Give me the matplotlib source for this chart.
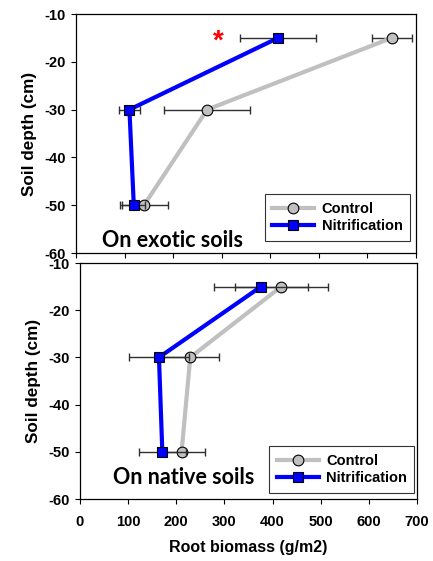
import matplotlib
matplotlib.use("Agg")
import matplotlib.pyplot as plt
from matplotlib.patches import Rectangle

depth = [-15, -30, -50]
exotic_control = [650, 270, 140]
exotic_control_err = [41, 89, 50]
exotic_nitr = [416, 110, 119]
exotic_nitr_err = [78, 22, 24]
native_control = [418, 229, 211]
native_control_err = [97, 60, 48]
native_nitr = [376, 164, 171]
native_nitr_err = [97, 62, 49]
series_labels = ["Control", "Nitrification"]
panel_labels = ["On exotic soils", "On native soils"]
xticks = [0, 100, 200, 300, 400, 500, 600, 700]
yticks = [-10, -20, -30, -40, -50, -60]

plt.rcParams['font.family'] = ['Liberation Sans', 'DejaVu Sans']
plt.rcParams['font.weight'] = 'bold'

fig = plt.figure(figsize=(4.33, 5.61), dpi=100)
ax_top = fig.add_axes([76/433, 1-253/561, 340/433, 239/561], zorder=2)
ax_bot = fig.add_axes([80/433, 1-499/561, 337/433, 236/561], zorder=0)

# white strip hiding upper part of the bottom panel's -10 label
fig.patches.append(Rectangle((0, 1-259/561), 0.17, 14/561, transform=fig.transFigure,
                             facecolor='white', edgecolor='none', zorder=1))

def draw(ax, ctrl, ctrl_err, nitr, nitr_err, text, txy, leg_anchor, show_xlabels):
    ax.errorbar(ctrl, depth, xerr=ctrl_err, fmt='none', ecolor='#303030',
                elinewidth=1, capsize=2.8, capthick=1, zorder=2)
    ax.plot(ctrl, depth, color='#c0c0c0', lw=3, marker='o', ms=7.7,
            mfc='#c0c0c0', mec='black', mew=0.8, label=series_labels[0], zorder=3)
    ax.errorbar(nitr, depth, xerr=nitr_err, fmt='none', ecolor='#303030',
                elinewidth=1, capsize=2.8, capthick=1, zorder=4)
    ax.plot(nitr, depth, color='#0000ff', lw=3, marker='s', ms=6.8,
            mfc='#0000ff', mec='black', mew=0.8, label=series_labels[1], zorder=5)
    ax.set_xlim(0, 700)
    ax.set_ylim(-60, -10)
    ax.set_xticks(xticks)
    ax.set_yticks(yticks)
    ax.set_yticklabels([str(v) for v in yticks], fontweight='bold', fontsize=10.5)
    ax.tick_params(direction='out', length=3.5, width=0.8)
    ax.tick_params(axis='y', pad=4)
    ax.tick_params(axis='x', pad=8)
    for s in ax.spines.values():
        s.set_linewidth(0.9)
        s.set_color('black')
    if not show_xlabels:
        ax.set_xticklabels([])
    else:
        ax.set_xticklabels([str(v) for v in xticks], fontweight='bold', fontsize=10.5)
        ax.set_xlabel("Root biomass (g/m2)", fontsize=11.5, fontweight='bold', labelpad=8)
    ax.set_ylabel("Soil depth (cm)", fontsize=12.3, fontweight='bold', labelpad=5)
    ax.text(txy[0], txy[1], text, fontsize=15.5, fontweight='bold',
            family=['Lato', 'DejaVu Sans'], ha='center', va='center')
    leg = ax.legend(loc='lower right', bbox_to_anchor=leg_anchor, borderaxespad=0,
                    prop={'size': 10.5, 'weight': 'bold'}, frameon=True, fancybox=False,
                    edgecolor='black', handlelength=2.9, handletextpad=0.5,
                    borderpad=0.5, labelspacing=0.25)
    leg.get_frame().set_linewidth(0.8)

draw(ax_top, exotic_control, exotic_control_err, exotic_nitr, exotic_nitr_err,
     panel_labels[0], (199, -57.3), (0.982, 0.0515), False)
draw(ax_bot, native_control, native_control_err, native_nitr, native_nitr_err,
     panel_labels[1], (215, -55.5), (0.992, 0.027), True)

ax_top.text(293, -15.8, "*", color='red', fontsize=20, fontweight='bold',
            ha='center', va='center')

fig.savefig("out.png", dpi=100)
